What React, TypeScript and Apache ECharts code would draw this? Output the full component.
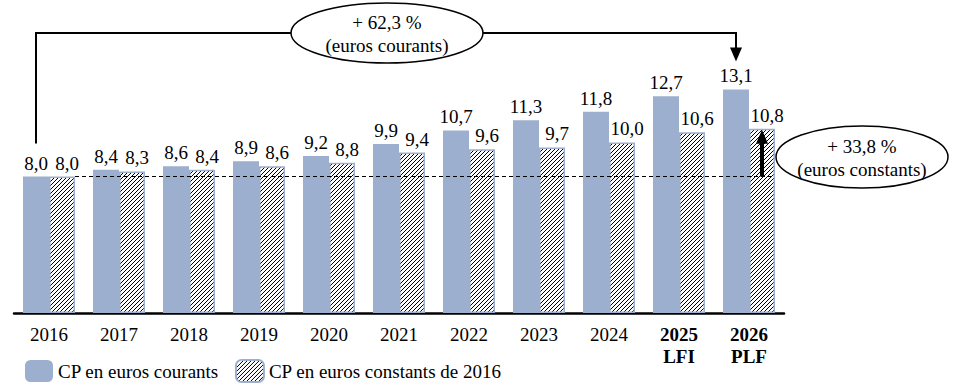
import React, { useEffect, useRef } from 'react';
import * as echarts from 'echarts';

const categories = ['2016', '2017', '2018', '2019', '2020', '2021', '2022', '2023', '2024', '2025', '2026'];
const subLabels: Record<string, string> = { '2025': 'LFI', '2026': 'PLF' };
const currentEuros = [8.0, 8.4, 8.6, 8.9, 9.2, 9.9, 10.7, 11.3, 11.8, 12.7, 13.1];
const constantEuros = [8.0, 8.3, 8.4, 8.6, 8.8, 9.4, 9.6, 9.7, 10.0, 10.6, 10.8];
const seriesNames = ['CP en euros courants', 'CP en euros constants de 2016'];
const currentGrowth = ['+ 62,3 %', '(euros courants)'];
const constantGrowth = ['+ 33,8 %', '(euros constants)'];

const FONT = 'Liberation Serif';
const FS = 19;
const BLUE = '#9DAFCE';
const BAR_W = 26;

const fmt = (v: number) => v.toFixed(1).replace('.', ',');

function makeHatch() {
  const c = document.createElement('canvas');
  const n = 4;
  c.width = n;
  c.height = n;
  const ctx = c.getContext('2d')!;
  ctx.fillStyle = '#fff';
  ctx.fillRect(0, 0, n, n);
  ctx.fillStyle = '#000';
  for (let i = 0; i < n; i++) {
    ctx.fillRect(n - 1 - i, i, 1, 1);
  }
  return c;
}

export default function App() {
  const ref = useRef<HTMLDivElement>(null);
  useEffect(() => {
    if (!ref.current) return;
    const chart = echarts.init(ref.current, undefined, { renderer: 'svg' });
    const hatch = makeHatch();
    const labelStyle = {
      show: true,
      position: 'top' as const,
      distance: 4,
      fontFamily: FONT,
      fontSize: FS,
      color: '#000',
      formatter: (p: any) => fmt(p.value),
    };
    chart.setOption({
      animation: false,
      grid: { left: 14, right: 193, top: 40, bottom: 76 },
      xAxis: {
        type: 'category',
        data: categories,
        axisLine: { lineStyle: { color: '#000', width: 2.5 } },
        axisTick: { show: false },
        axisLabel: {
          interval: 0,
          margin: 10,
          fontFamily: FONT,
          fontSize: FS,
          color: '#000',
          lineHeight: 22,
          formatter: (v: string) => (subLabels[v] ? `{b|${v}}\n{b|${subLabels[v]}}` : v),
          rich: { b: { fontWeight: 'bold', fontFamily: FONT, fontSize: FS, lineHeight: 22, color: '#000' } },
        },
      },
      yAxis: { type: 'value', min: 0, max: 16, show: false, splitLine: { show: false } },
      legend: {
        left: 20,
        top: 354,
        itemWidth: 28,
        itemHeight: 22,
        itemGap: 16,
        textStyle: { fontFamily: FONT, fontSize: FS, color: '#000' },
        data: seriesNames,
      },
      series: [
        {
          name: seriesNames[0],
          type: 'bar',
          data: currentEuros,
          barWidth: BAR_W,
          barGap: '0%',
          itemStyle: { color: BLUE },
          label: labelStyle,
        },
        {
          name: seriesNames[1],
          type: 'bar',
          data: constantEuros,
          barWidth: BAR_W,
          itemStyle: {
            color: { image: hatch, repeat: 'repeat' },
            borderColor: BLUE,
            borderWidth: 1.5,
          },
          label: { ...labelStyle, offset: [5, 0] },
        },
      ],
    });

    const px = (i: number, v: number) => chart.convertToPixel({ xAxisIndex: 0, yAxisIndex: 0 }, [i, v]) as number[];
    const last = categories.length - 1;
    const [c0, y0] = px(0, currentEuros[0]);
    const [cL, yTopL] = px(last, currentEuros[last]);
    const [, yConstL] = px(last, constantEuros[last]);
    const [, yBase] = px(0, constantEuros[0]);
    const blue0 = c0 - BAR_W / 2;
    const blueL = cL - BAR_W / 2;
    const hatchL = cL + BAR_W / 2;
    const lineTop = 33;
    const tipY = yTopL - 28;
    const arrowBottomY = yBase;
    const arrowTopY = yConstL + 1;

    const txt = (x: number, y: number, s: string) => ({
      type: 'text',
      x,
      y,
      z: 20,
      style: { text: s, fontFamily: FONT, fontSize: FS, fill: '#000', align: 'center', verticalAlign: 'middle' },
    });

    chart.setOption({
      graphic: [
        {
          type: 'line',
          z: 15,
          shape: { x1: c0 + BAR_W, y1: yBase, x2: cL + BAR_W, y2: yBase },
          style: { stroke: '#000', lineWidth: 1, lineDash: [4, 3] },
        },
        {
          type: 'polyline',
          z: 15,
          shape: { points: [[blue0, y0 - 33], [blue0, lineTop], [blueL, lineTop], [blueL, tipY - 12]] },
          style: { stroke: '#000', lineWidth: 2, fill: null },
        },
        {
          type: 'polygon',
          z: 15,
          shape: { points: [[blueL - 6, tipY - 14], [blueL + 6, tipY - 14], [blueL, tipY]] },
          style: { fill: '#000' },
        },
        {
          type: 'ellipse',
          z: 18,
          shape: { cx: 387, cy: 33, rx: 96, ry: 30 },
          style: { fill: '#fff', stroke: '#000', lineWidth: 1.5 },
        },
        txt(387, 22, currentGrowth[0]),
        txt(387, 45, currentGrowth[1]),
        {
          type: 'line',
          z: 15,
          shape: { x1: hatchL, y1: arrowBottomY, x2: hatchL, y2: arrowTopY + 12 },
          style: { stroke: '#000', lineWidth: 4 },
        },
        {
          type: 'polygon',
          z: 15,
          shape: { points: [[hatchL - 6, arrowTopY + 14], [hatchL + 6, arrowTopY + 14], [hatchL, arrowTopY]] },
          style: { fill: '#000' },
        },
        {
          type: 'ellipse',
          z: 18,
          shape: { cx: 862, cy: 157, rx: 86, ry: 31 },
          style: { fill: '#fff', stroke: '#000', lineWidth: 1.5 },
        },
        txt(862, 146, constantGrowth[0]),
        txt(862, 169, constantGrowth[1]),
      ],
    });

    return () => chart.dispose();
  }, []);
  return <div ref={ref} style={{ width: 977, height: 389, position: 'absolute', left: 0, top: 0 }} />;
}
